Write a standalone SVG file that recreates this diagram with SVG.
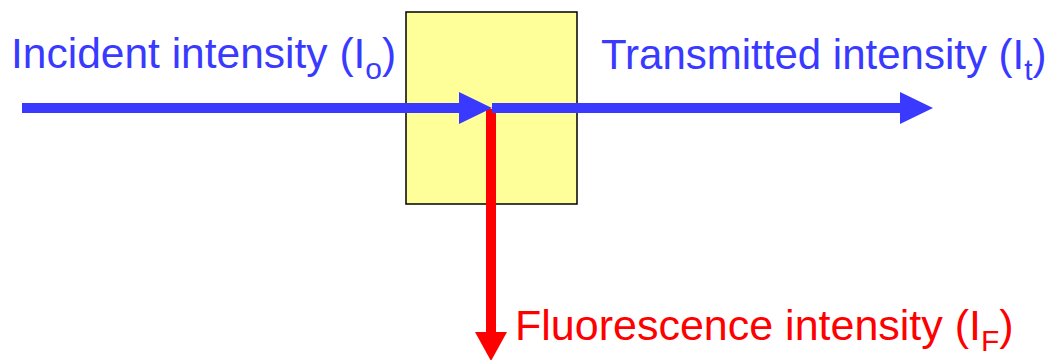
<svg xmlns="http://www.w3.org/2000/svg" width="1051" height="360" viewBox="0 0 1051 360">
  <style>
    .lbl { font-family: "Liberation Sans", Arial, sans-serif; font-size: 42px; }
    .blue { fill: #3939FF; }
    .red { fill: #FF0000; }
    .sub { font-size: 30px; }
    .beam { fill: none; stroke-width: 10; }
  </style>
  <defs>
    <marker id="headBlue" markerUnits="userSpaceOnUse" markerWidth="34" markerHeight="32" refX="0" refY="16" orient="auto" overflow="visible">
      <path d="M0,0 L33,16 L0,32 Z" fill="#3939FF"/>
    </marker>
    <marker id="headRed" markerUnits="userSpaceOnUse" markerWidth="30" markerHeight="32" refX="0" refY="16" orient="auto" overflow="visible">
      <path d="M0,0 L29,16 L0,32 Z" fill="#FF0000"/>
    </marker>
  </defs>

  <g id="sample">
    <rect x="406" y="12" width="171" height="192" fill="#FFFF99" stroke="#000000" stroke-width="1.5"/>
  </g>

  <g id="incident-label">
    <text class="lbl blue" x="11" y="68" style="font-size:42.5px">Incident intensity (I<tspan class="sub" dy="11">o</tspan><tspan dy="-11">)</tspan></text>
  </g>

  <g id="transmitted-label">
    <text class="lbl blue" x="601" y="69">Transmitted intensity (I<tspan class="sub" dy="11">t</tspan><tspan dy="-11">)</tspan></text>
  </g>

  <g id="fluorescence-label">
    <text class="lbl red" x="515" y="340" style="font-size:43px">Fluorescence intensity (I<tspan class="sub" dy="11">F</tspan><tspan dy="-11">)</tspan></text>
  </g>

  <g id="connectors">
    <path id="fluorescence" class="beam" stroke="#FF0000" d="M491,109 L491,332" marker-end="url(#headRed)"/>
    <path id="incident" class="beam" stroke="#3939FF" d="M22,108 L459,108" marker-end="url(#headBlue)"/>
    <path id="transmitted" class="beam" stroke="#3939FF" d="M492,108 L900,108" marker-end="url(#headBlue)"/>
  </g>
</svg>
